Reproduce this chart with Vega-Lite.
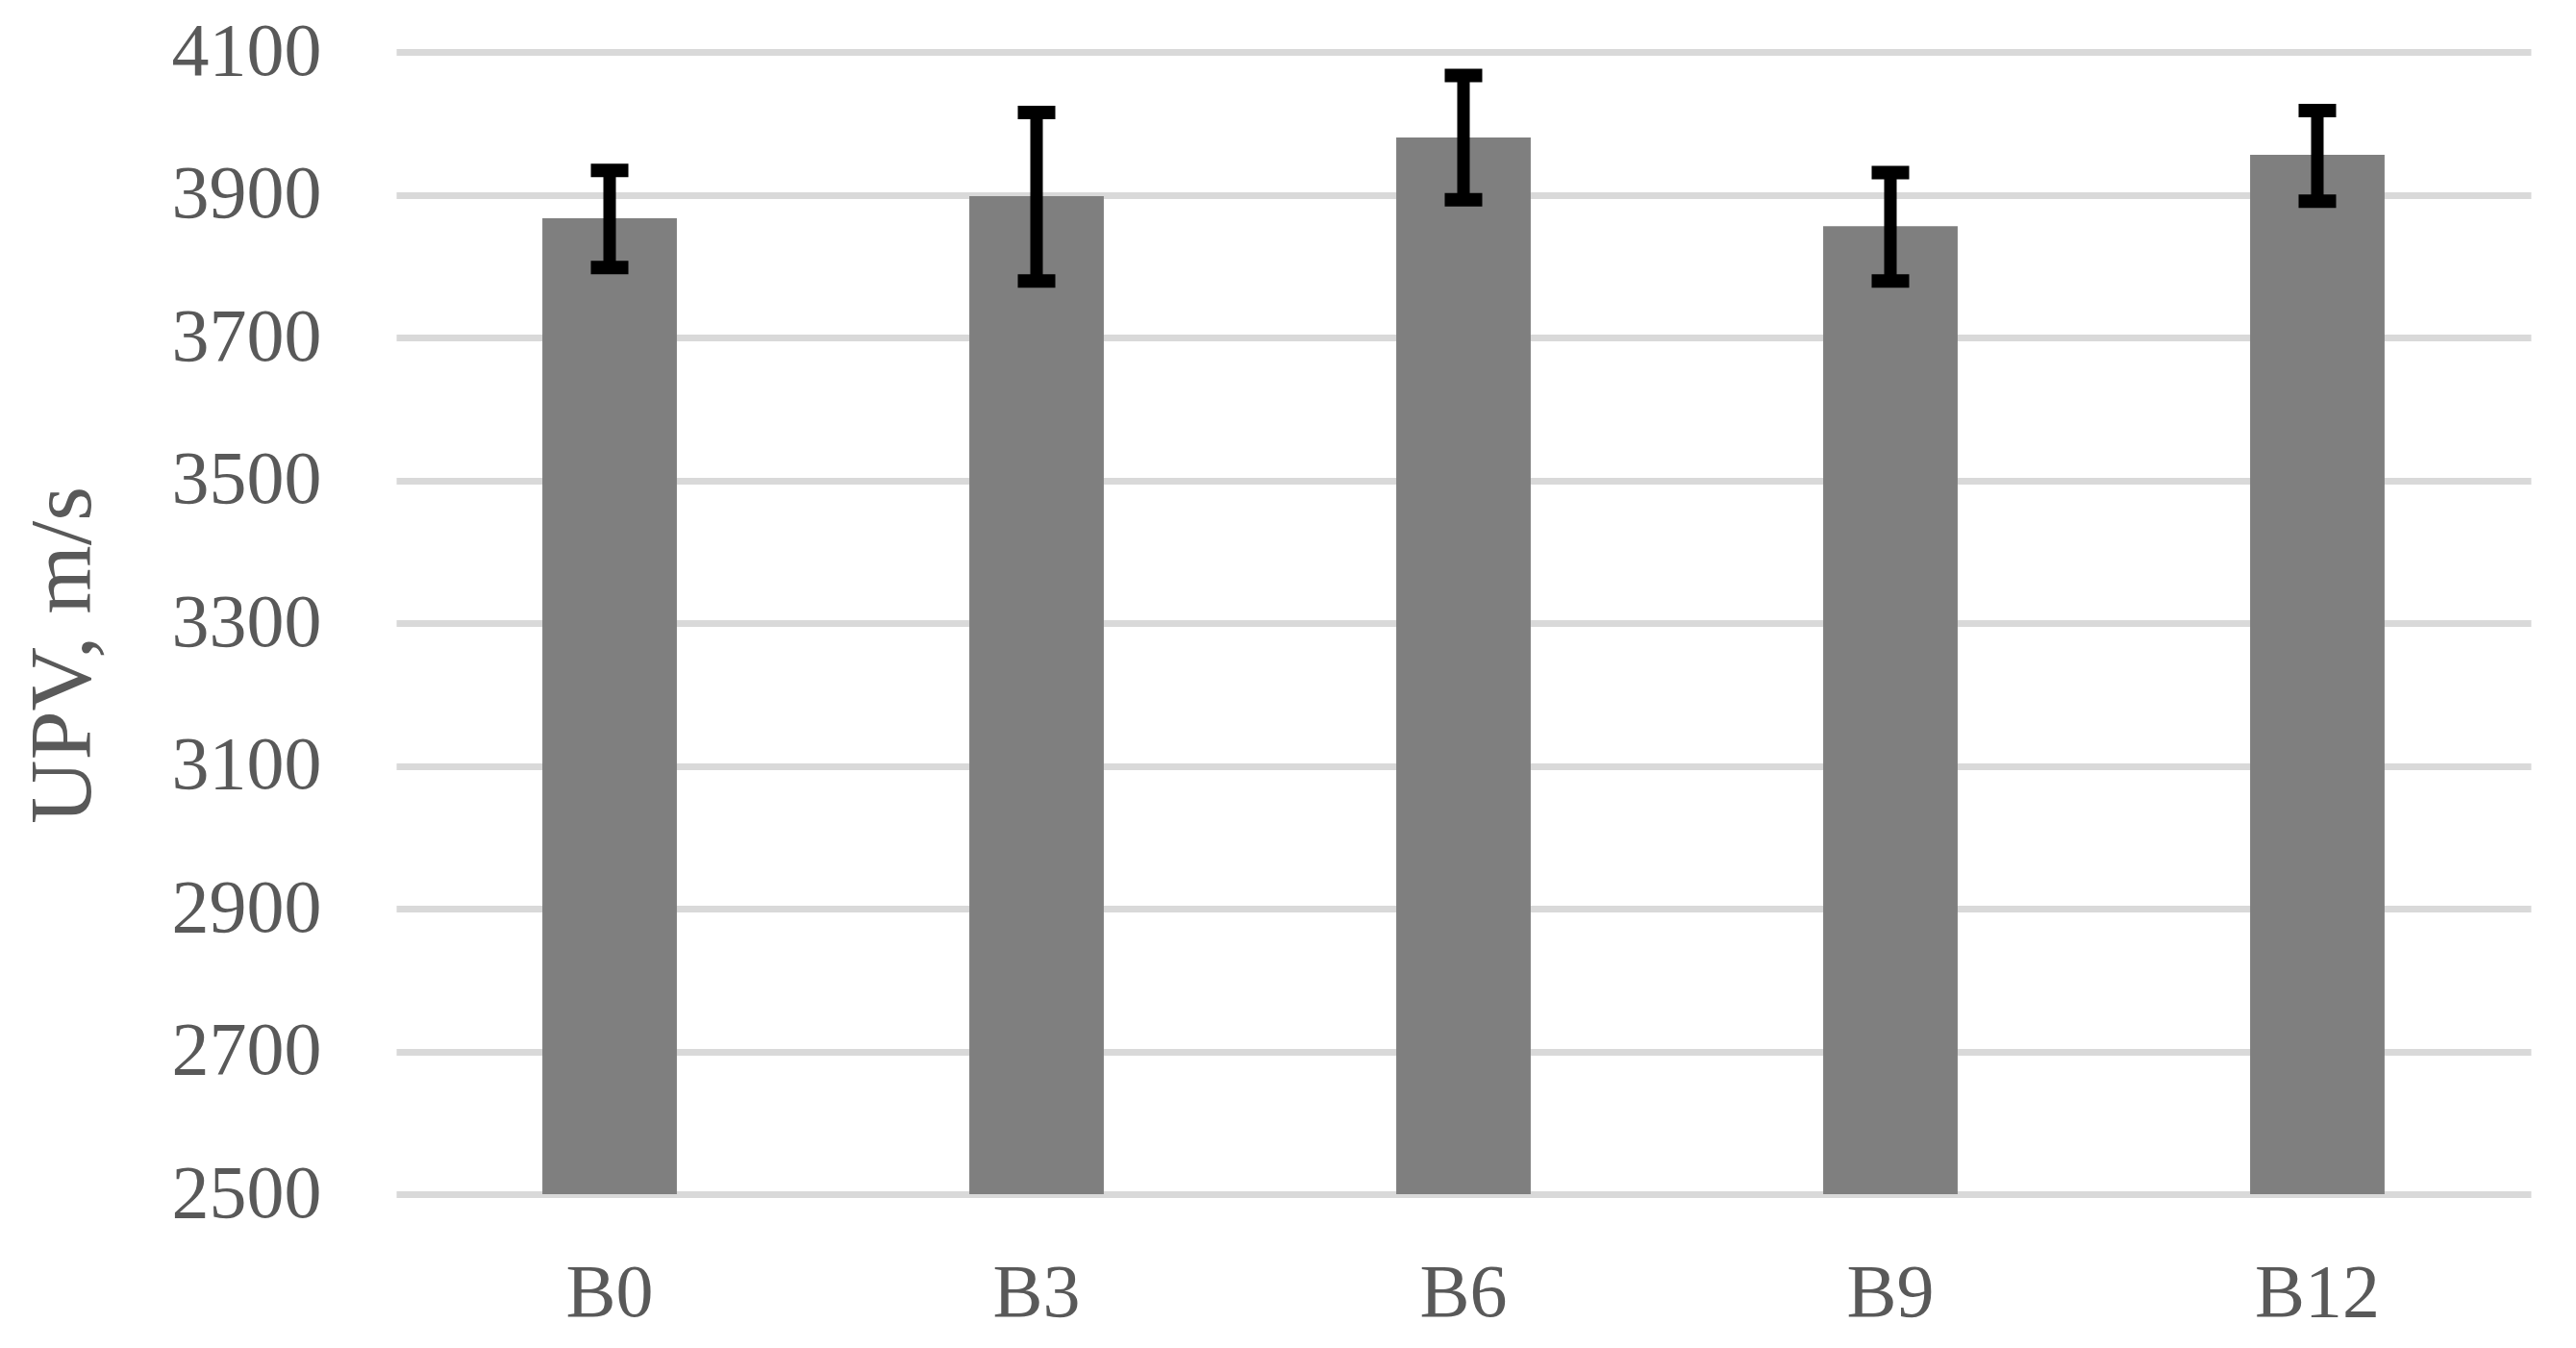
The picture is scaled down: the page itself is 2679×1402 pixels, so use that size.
{
  "$schema": "https://vega.github.io/schema/vega-lite/v6.json",
  "autosize": {"type": "none"},
  "width": 2220,
  "height": 1188,
  "padding": {"left": 412, "top": 54, "right": 47, "bottom": 160},
  "background": "white",
  "config": {
    "view": {"stroke": null},
    "font": "Liberation Serif"
  },
  "data": {
    "values": [
      {"mix": "B0", "upv": 3867, "lo": 3798, "hi": 3934},
      {"mix": "B3", "upv": 3898, "lo": 3779, "hi": 4015},
      {"mix": "B6", "upv": 3980, "lo": 3893, "hi": 4067},
      {"mix": "B9", "upv": 3856, "lo": 3779, "hi": 3931},
      {"mix": "B12", "upv": 3956, "lo": 3891, "hi": 4018}
    ]
  },
  "encoding": {
    "x": {
      "field": "mix",
      "type": "nominal",
      "sort": null,
      "scale": {"paddingInner": 0.685, "paddingOuter": 0.3425},
      "axis": {
        "title": null,
        "labelAngle": 0,
        "labelFont": "Liberation Serif",
        "labelFontSize": 78,
        "labelColor": "#595959",
        "labelPadding": 64,
        "ticks": false,
        "domain": false,
        "grid": false
      }
    }
  },
  "layer": [
    {
      "mark": {"type": "bar", "color": "#7f7f7f"},
      "encoding": {
        "y": {
          "field": "upv",
          "type": "quantitative",
          "scale": {"domain": [2500, 4100], "zero": false, "nice": false},
          "axis": {
            "title": "UPV, m/s",
            "titleFont": "Liberation Serif",
            "titleFontSize": 92,
            "titleFontWeight": "normal",
            "titleColor": "#595959",
            "titlePadding": 100,
            "titleY": 627,
            "format": "d",
            "values": [2500, 2700, 2900, 3100, 3300, 3500, 3700, 3900, 4100],
            "labelFont": "Liberation Serif",
            "labelFontSize": 78,
            "labelColor": "#595959",
            "labelPadding": 78,
            "ticks": false,
            "domain": false,
            "grid": true,
            "gridColor": "#d9d9d9",
            "gridWidth": 7
          }
        },
        "y2": {"datum": 2500}
      }
    },
    {
      "mark": {"type": "rule", "color": "black", "strokeWidth": 13},
      "encoding": {
        "y": {"field": "hi", "type": "quantitative"},
        "y2": {"field": "lo"}
      }
    },
    {
      "mark": {"type": "tick", "color": "black", "opacity": 1, "thickness": 14, "size": 39},
      "encoding": {
        "y": {"field": "hi", "type": "quantitative"}
      }
    },
    {
      "mark": {"type": "tick", "color": "black", "opacity": 1, "thickness": 14, "size": 39},
      "encoding": {
        "y": {"field": "lo", "type": "quantitative"}
      }
    }
  ]
}
